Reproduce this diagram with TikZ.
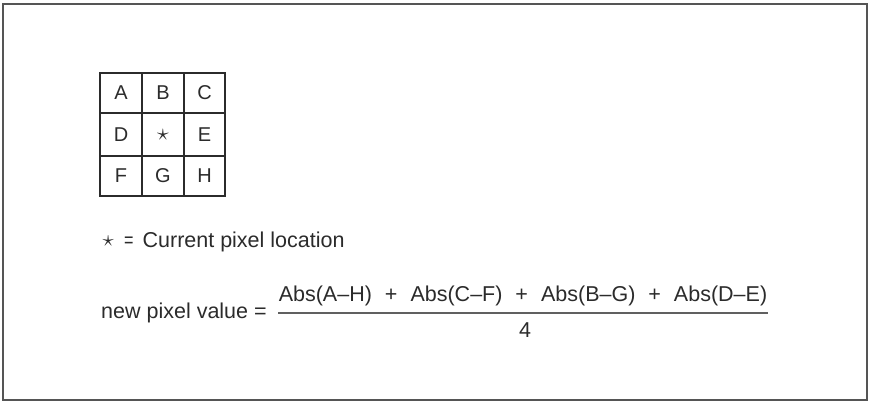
\documentclass[tikz,border=0pt]{standalone}
\usepackage{fontspec}
\setmainfont{Liberation Sans}
\definecolor{ink}{HTML}{2B2B2B}
\definecolor{frame}{HTML}{555555}
\begin{document}
\begin{tikzpicture}[x=1pt,y=-1pt,
  txt/.style={inner sep=0pt,text=ink,font=\fontsize{21.5}{24}\selectfont},
  cell/.style={inner sep=0pt,text=ink,font=\fontsize{20}{22}\selectfont},
  gridline/.style={draw=ink,line width=2pt},
  fracline/.style={draw=ink!75,line width=1.6pt}]
\useasboundingbox (0,0) rectangle (870,402);
\draw[frame,line width=1.6pt] (3,4) rectangle (867,400);
% grid
\draw[gridline] (100,73) rectangle (225,196);
\draw[gridline] (142,73) -- (142,196);
\draw[gridline] (184,73) -- (184,196);
\draw[gridline] (100,113) -- (225,113);
\draw[gridline] (100,156) -- (225,156);
\node[cell] (cA) at (121,93) {A};
\node[cell] (cB) at (163,93) {B};
\node[cell] (cC) at (204.5,93) {C};
\node[cell] (cD) at (121,134.5) {D};
\node[cell] (cS) at (163,134.5) {\scalebox{1.15}{$\star$}};
\node[cell] (cE) at (204.5,134.5) {E};
\node[cell] (cF) at (121,176) {F};
\node[cell] (cG) at (163,176) {G};
\node[cell] (cH) at (204.5,176) {H};
% legend
\node[txt,anchor=base west] (legend) at (102,247) {\makebox[12pt]{\raisebox{1pt}{\scalebox{1.1}{$\star$}}}\hspace{10pt}\scalebox{0.75}[1]{=}\hspace{9pt}Current pixel location};
% formula
\node[txt,anchor=base west] (lhs) at (101,318) {new pixel value =};
\coordinate (fl) at (278,313);
\coordinate (fr) at (768,313);
\draw[fracline] (fl) -- (fr);
\node[txt,anchor=base] (num) at (523,301) {Abs(A–H)\hspace{13pt}+\hspace{13pt}Abs(C–F)\hspace{13pt}+\hspace{13pt}Abs(B–G)\hspace{13pt}+\hspace{13pt}Abs(D–E)};
\node[txt,anchor=base] (den) at (525,337) {4};
\end{tikzpicture}
\end{document}
